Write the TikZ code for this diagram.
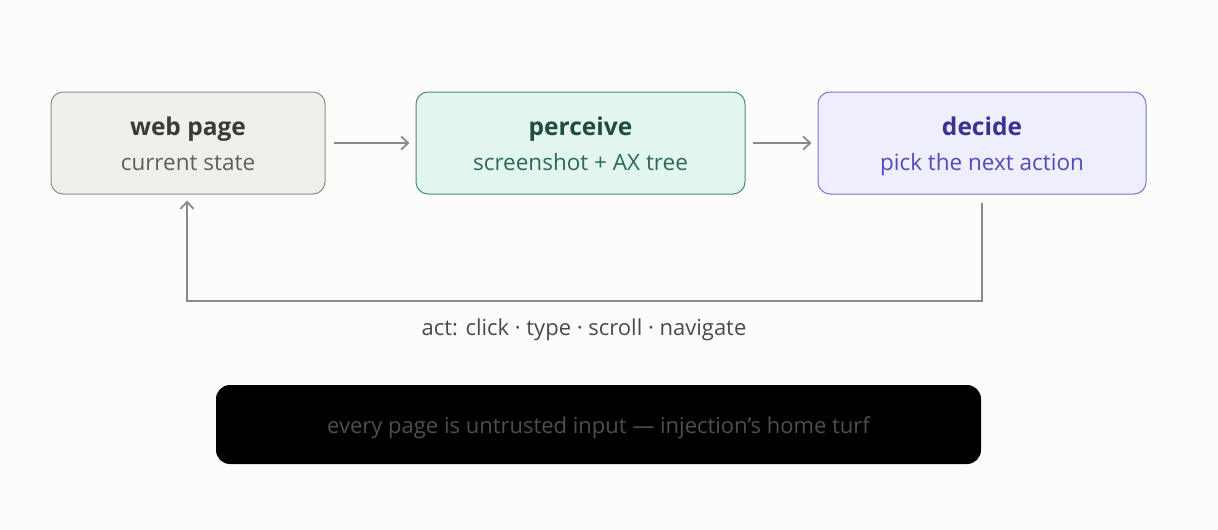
\documentclass[tikz,border=0pt]{standalone}
\usepackage{fontspec}
\setmainfont{Open Sans}
\usetikzlibrary{arrows.meta}
\definecolor{bg}{HTML}{FCFCFA}
\definecolor{wpfill}{HTML}{F0EFEB}
\definecolor{wpdraw}{HTML}{8F8E89}
\definecolor{wptitle}{HTML}{3A3A37}
\definecolor{wpsub}{HTML}{5F5E5A}
\definecolor{pfill}{HTML}{E3F5EF}
\definecolor{pdraw}{HTML}{4E8C75}
\definecolor{ptitle}{HTML}{1E4D3B}
\definecolor{psub}{HTML}{2D6A53}
\definecolor{dfill}{HTML}{EEEEFD}
\definecolor{ddraw}{HTML}{7D74D8}
\definecolor{dtitle}{HTML}{3A3290}
\definecolor{dsub}{HTML}{514AB8}
\definecolor{arr}{HTML}{8A8A86}
\definecolor{lbl}{HTML}{4A4A47}
\definecolor{note}{HTML}{4E4E4E}
\begin{document}
\begin{tikzpicture}[x=1pt,y=-1pt,
  stagebox/.style={draw, line width=1pt, rounded corners=12pt, minimum width=#1, minimum height=102pt, inner sep=0pt},
  ttl/.style={anchor=base, inner sep=0pt, font=\fontsize{24.5}{28}\selectfont\bfseries},
  sub/.style={anchor=base, inner sep=0pt, font=\fontsize{22.5}{26}\selectfont},
  conn/.style={draw=arr, line width=2pt, -{Straight Barb[length=7pt,width=13pt,line width=1.8pt]}}]
\useasboundingbox[fill=bg] (0,0) rectangle (1218,530);
% boxes
\node[stagebox=274pt, fill=wpfill, draw=wpdraw] (wp) at (188,143) {};
\node[stagebox=329pt, fill=pfill, draw=pdraw] (pc) at (580.5,143) {};
\node[stagebox=328pt, fill=dfill, draw=ddraw] (dc) at (982,143) {};
% texts
\node[ttl, text=wptitle] (wpt) at (188,135) {web page};
\node[sub, text=wpsub] (wps) at (188,170) {current state};
\node[ttl, text=ptitle] (pct) at (580.5,135) {perceive};
\node[sub, text=psub] (pcs) at (580.5,170) {screenshot + AX tree};
\node[ttl, text=dtitle] (dct) at (982,135) {decide};
\node[sub, text=dsub] (dcs) at (982,170) {pick the next action};
% forward arrows
\draw[conn] ([xshift=8pt]wp.east) -- ([xshift=-6pt]pc.west);
\draw[conn] ([xshift=7pt]pc.east) -- ([xshift=-6pt]dc.west);
% loop
\coordinate (c1) at (982,301);
\coordinate (c2) at (187,301);
\draw[conn] ([yshift=-8pt]dc.south) -- (c1) -- (c2) -- ([xshift=-1pt,yshift=-6pt]wp.south);
\node[sub, font=\fontsize{22}{26}\selectfont, text=lbl] (act) at (584,335) {act: click · type · scroll · navigate};
% note
\node[fill=black, rounded corners=14pt, minimum width=765pt, minimum height=79pt, inner sep=0pt] (nt) at (598.5,424.5) {};
\node[sub, font=\fontsize{22}{26}\selectfont, text=note] (ntt) at (598.5,433) {every page is untrusted input — injection’s home turf};
\end{tikzpicture}
\end{document}
